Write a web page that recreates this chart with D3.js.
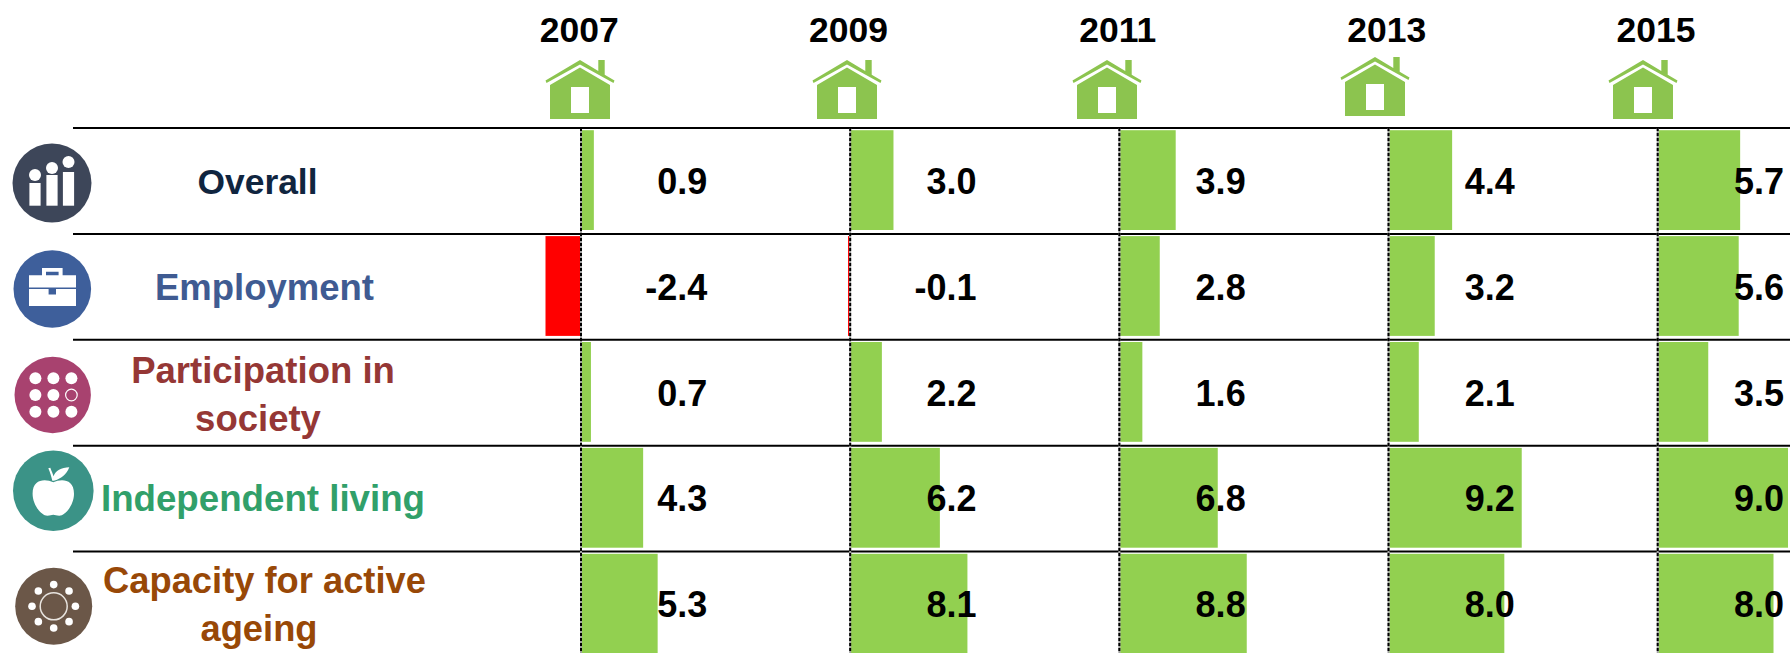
<!DOCTYPE html>
<head>
    <meta charset="utf-8">
    <title>Active ageing index</title>
    <style>
        html, body { margin: 0; padding: 0; background: #fff; overflow: hidden; }
        text { font-family: "Liberation Sans", Arial, sans-serif; font-weight: bold; }
    </style>
</head>
<body>

<svg width="1790" height="653"></svg>

<script src="https://d3js.org/d3.v7.min.js"></script>

<script>

var years = [2007, 2009, 2011, 2013, 2015];
var domains = ['overall', 'employment', 'participation', 'independent', 'capacity'];

var overall = [0.9, 3.0, 3.9, 4.4, 5.7];
var employment = [-2.4, -0.1, 2.8, 3.2, 5.6];
var participation = [0.7, 2.2, 1.6, 2.1, 3.5];
var independent = [4.3, 6.2, 6.8, 9.2, 9.0];
var capacity = [5.3, 8.1, 8.8, 8.0, 8.0];
var rows = [overall, employment, participation, independent, capacity];

var labelLines = [['Overall'], ['Employment'], ['Participation in', 'society'], ['Independent living'], ['Capacity for active', 'ageing']];
var labelColors = ['#10253f', '#3f5b92', '#953735', '#31a06a', '#984807'];
var iconColors = ['#3d4659', '#3e5f9b', '#a8426f', '#3b9387', '#6b5748'];

var svg = d3.select('svg');

var x = d3.scaleLinear().domain([2007, 2015]).range([580.3, 1657]);
var y = d3.scaleLinear().domain([0, 5]).range([128, 657.5]);
var w = d3.scaleLinear().domain([0, 1]).range([0, 14.5]);

// row separators
svg.selectAll('.sep')
    .data(domains)
    .enter().append('line')
        .attr('class', 'sep')
        .attr('x1', 73).attr('x2', 1790)
        .attr('y1', (d, i) => y(i)).attr('y2', (d, i) => y(i))
        .attr('stroke', '#000').attr('stroke-width', 2);

// bars, one group per row
var row = svg.selectAll('.row')
    .data(rows)
    .enter().append('g')
        .attr('class', 'row')
        .attr('transform', (d, i) => `translate(0,${y(i)})`);

var cell = row.selectAll('g')
    .data(d => d.map((v, i) => ({ year: years[i], value: v })))
    .enter().append('g')
        .attr('transform', d => `translate(${x(d.year)},0)`);

// positive bars start just right of the dashed line
cell.append('rect')
    .attr('x', d => d.value < 0 ? w(d.value) : 1.5)
    .attr('y', 2.2)
    .attr('width', d => d.value < 0 ? -w(d.value) : w(d.value) - 1)
    .attr('height', 99.8)
    .attr('fill', d => d.value < 0 ? '#ff0000' : '#92d050');

cell.append('text')
    .attr('x', 127)
    .attr('y', 65.8)
    .attr('text-anchor', 'end')
    .attr('font-size', 36)
    .attr('fill', '#000')
    .text(d => d.value.toFixed(1));

// dashed zero lines, grey underneath so the gaps are not white
svg.selectAll('.zero-under')
    .data(years)
    .enter().append('line')
        .attr('class', 'zero-under')
        .attr('x1', d => x(d) + 0.7).attr('x2', d => x(d) + 0.7)
        .attr('y1', 128).attr('y2', 653)
        .attr('stroke', '#a0a0a0').attr('stroke-width', 2);
svg.selectAll('.zero')
    .data(years)
    .enter().append('line')
        .attr('class', 'zero')
        .attr('x1', d => x(d) + 0.7).attr('x2', d => x(d) + 0.7)
        .attr('y1', 128).attr('y2', 653)
        .attr('stroke', '#000').attr('stroke-width', 2)
        .attr('stroke-dasharray', '3,2');

// year headers
svg.selectAll('.year')
    .data(years)
    .enter().append('text')
        .attr('class', 'year')
        .attr('x', d => x(d) - 1)
        .attr('y', 41.5)
        .attr('text-anchor', 'middle')
        .attr('font-size', 35.5)
        .text(d => d);

// little houses above the years
var houseX = [580, 847, 1107, 1375, 1643];
var houseY = [60, 60, 60, 57, 60];
var house = svg.selectAll('.house')
    .data(years)
    .enter().append('g')
        .attr('class', 'house')
        .attr('transform', (d, i) => `translate(${houseX[i]},${houseY[i]})`);

house.append('path')
    .attr('fill', '#8cc44f')
    .attr('fill-rule', 'evenodd')
    .attr('d', 'M-30 25 L0 7.5 L30 25 L30 59 L-30 59 Z M-9 27 L-9 53 L9 53 L9 27 Z');
house.append('path')
    .attr('fill', '#8cc44f')
    .attr('d', 'M-34.5 20.5 L0 0 L18.3 10.9 L18.3 0 L24.7 0 L24.7 14.7 L34.5 20.5 L33.5 23 L0 4.5 L-33.5 23 Z');

// row labels
var labelY = [[194], [300], [383, 431], [511], [593, 641]];
var labelX = [[257.5], [264.5], [263, 258], [263], [264.5, 259]];
var labelSize = [35.4, 36.5, 36.5, 36.7, 36.3];
labelLines.forEach((lines, i) => {
    svg.selectAll(null)
        .data(lines)
        .enter().append('text')
            .attr('x', (d, j) => labelX[i][j])
            .attr('y', (d, j) => labelY[i][j])
            .attr('text-anchor', 'middle')
            .attr('font-size', labelSize[i])
            .attr('fill', labelColors[i])
            .text(d => d);
});

// round icons
var iconX = [52, 52.3, 52.7, 53.3, 53.7];
var iconY = [183, 289, 395, 490.7, 606.3];
var iconR = [39.5, 38.8, 38.2, 40.3, 38.5];
var icon = svg.selectAll('.icon')
    .data(domains)
    .enter().append('g')
        .attr('class', 'icon')
        .attr('transform', (d, i) => `translate(${iconX[i]},${iconY[i]})`);

icon.append('circle')
    .attr('r', (d, i) => iconR[i])
    .attr('fill', (d, i) => iconColors[i]);

// overall: three columns with dots
var cols = d3.select(icon.nodes()[0]);
[[-17, -8, 0], [0, -15, -8], [16.5, -21, -11]].forEach(c => {
    cols.append('circle').attr('cx', c[0]).attr('cy', c[1]).attr('r', 6).attr('fill', '#fff');
    cols.append('rect').attr('x', c[0] - 5.6).attr('y', c[2]).attr('width', 11.2).attr('height', 22.7 - c[2]).attr('fill', '#fff');
});

// employment: briefcase
d3.select(icon.nodes()[1]).append('path')
    .attr('fill', '#fff')
    .attr('fill-rule', 'evenodd')
    .attr('d', 'M-23.3 -13.8 L-10.3 -13.8 L-10.3 -21 L10.3 -21 L10.3 -13.8 L23.7 -13.8 L23.7 -1.5 L-23.3 -1.5 Z M-6.3 -17.2 L-6.3 -13.8 L6.3 -13.8 L6.3 -17.2 Z M-23.3 0 L-3.7 0 L-3.7 5.5 L3.7 5.5 L3.7 0 L23.7 0 L23.7 17 L-23.3 17 Z');

// participation: grid of dots, one hollow
var dots = d3.select(icon.nodes()[2]);
[-1, 0, 1].forEach((r, ri) => {
    [-1, 0, 1].forEach((c, ci) => {
        var hollow = ri == 1 && ci == 2;
        dots.append('circle')
            .attr('cx', 0.7 + c * 18).attr('cy', r * 16.7).attr('r', hollow ? 5.8 : 6)
            .attr('fill', hollow ? 'none' : '#fff')
            .attr('stroke', hollow ? '#fff' : 'none')
            .attr('stroke-width', 1.2);
    });
});

// independent living: apple
var apple = d3.select(icon.nodes()[3]);
apple.append('path')
    .attr('fill', '#fff')
    .attr('d', 'M0 -8.5 C8 -12 20.7 -12 20.7 3 C20.7 14 12 25 6 25 C3 25 2 24 0 24 C-2 24 -3 25 -6 25 C-12 25 -20.7 14 -20.7 3 C-20.7 -12 -8 -12 0 -8.5 Z');
apple.append('path')
    .attr('fill', '#fff')
    .attr('d', 'M-1 -10 C-2 -14 -3 -18 -5 -22.5 L-3 -23 C-1.5 -19 -0.5 -17 0.3 -14.5 C2 -20 8 -23.5 16 -23.5 C13 -16 8 -12 0.5 -10 Z');

// capacity: ring with dots around it
var sun = d3.select(icon.nodes()[4]);
sun.append('circle').attr('r', 13.5).attr('fill', 'none').attr('stroke', '#e8e4df').attr('stroke-width', 1.5);
d3.range(8).forEach(i => {
    var a = i * Math.PI / 4;
    sun.append('circle')
        .attr('cx', 21.7 * Math.cos(a)).attr('cy', 21.7 * Math.sin(a))
        .attr('r', 3.8).attr('fill', '#fff');
});

</script>

</body>
